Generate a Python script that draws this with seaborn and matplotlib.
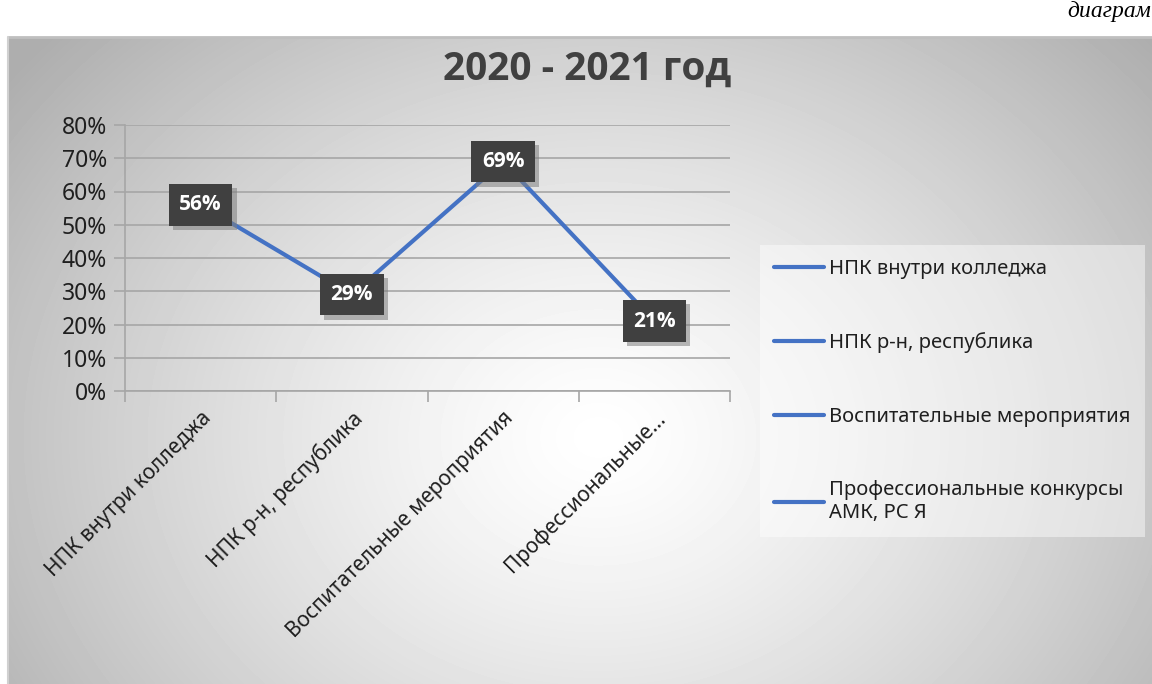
import numpy as np
import pandas as pd
import matplotlib
matplotlib.use('Agg')
import matplotlib.pyplot as plt
from matplotlib.lines import Line2D
from matplotlib.ticker import FixedLocator, PercentFormatter
import matplotlib.patheffects as pe
import seaborn as sns

# data
categories = ['НПК внутри колледжа', 'НПК р-н, республика',
              'Воспитательные мероприятия', 'Профессиональные конкурсы АМК, РС Я']
tick_labels = ['НПК внутри колледжа', 'НПК р-н, республика',
               'Воспитательные мероприятия', 'Профессиональные...']
legend_labels = ['НПК внутри колледжа', 'НПК р-н, республика',
                 'Воспитательные мероприятия', 'Профессиональные конкурсы\nАМК, РС Я']
values = [0.56, 0.29, 0.69, 0.21]
title = '2020 - 2021 год'

sns.set_theme(style='white')
plt.rcParams['font.family'] = ['Noto Sans', 'DejaVu Sans']
bold_fam = ['Open Sans', 'Lato', 'DejaVu Sans']

blue = '#4472C4'
txt = '#1f1f1f'

fig = plt.figure(figsize=(11.52, 6.84), dpi=100)
fig.patch.set_facecolor('white')

# radial gray-to-white background of the chart area
bg = fig.add_axes([8/1152, 0, 1 - 8/1152, 647/684], zorder=0)
W, H = 1144, 647
xx, yy = np.meshgrid(np.arange(W), np.arange(H))
r = np.sqrt(((xx - 590) / 740.0) ** 2 + ((yy - 400) / 600.0) ** 2)
shade = 1.0 - 0.32 * np.clip(r, 0, 1) ** 1.3
bg.imshow(shade, cmap='gray', vmin=0, vmax=1, aspect='auto', interpolation='bilinear')
bg.set_axis_off()
fig.add_artist(Line2D([8/1152, 1], [647/684, 647/684], color='#bfbfbf', lw=2,
                      transform=fig.transFigure))
fig.add_artist(Line2D([8/1152, 8/1152], [0, 647/684], color='#d0d0d0', lw=1.5,
                      transform=fig.transFigure))

# cut off caption from the page above
fig.text(1151/1152, 1 - 11/684, 'диаграм', family='Liberation Serif', style='italic',
         fontsize=17, color='black', ha='right', va='center')

ax = fig.add_axes([125/1152, 1 - 391/684, (730 - 125)/1152, (391 - 125)/684], zorder=2)
ax.patch.set_alpha(0)

df = pd.DataFrame({'cat': categories, 'x': np.arange(len(categories)), 'val': values})
sns.lineplot(data=df, x='x', y='val', ax=ax, color=blue, linewidth=3, zorder=3,
             legend=False)

ax.set_xlim(-0.5, len(categories) - 0.5)
ax.set_ylim(0, 0.8)
ax.set_yticks(np.arange(0, 0.81, 0.1))
ax.yaxis.set_major_formatter(PercentFormatter(1.0, decimals=0))
ax.grid(axis='y', color='#a6a6a6', lw=1.2)
ax.set_xticks(np.arange(len(categories)))
ax.set_xticklabels(tick_labels, rotation=45, ha='right', rotation_mode='anchor',
                   fontsize=15, color=txt)
ax.xaxis.set_minor_locator(FixedLocator(np.arange(-0.5, len(categories), 1.0)))
ax.tick_params(axis='x', which='major', length=0, pad=12)
ax.tick_params(axis='x', which='minor', length=8, color='#a6a6a6', width=1.2, bottom=True)
ax.tick_params(axis='y', length=8, color='#a6a6a6', width=1.2, left=True,
               labelsize=16.5, labelcolor=txt, pad=5)
for s in ['top', 'right']:
    ax.spines[s].set_visible(False)
for s in ['left', 'bottom']:
    ax.spines[s].set_color('#a6a6a6')
    ax.spines[s].set_linewidth(1.2)
ax.set_xlabel('')
ax.set_ylabel('')

# data labels in dark boxes with a soft shadow
for i, v in enumerate(values):
    t = ax.text(i, v, f'{round(v * 100)}%', ha='center', va='center', fontsize=15,
                fontweight='bold', family=bold_fam, color='white', zorder=5,
                bbox=dict(boxstyle='square,pad=0.5', fc='#404040', ec='none'))
    t.get_bbox_patch().set_path_effects([
        pe.SimplePatchShadow(offset=(3, -3), shadow_rgbFace='#7f7f7f', alpha=0.55),
        pe.Normal()])

fig.text(587/1152, 1 - 69/684, title, ha='center', va='center', fontsize=28,
         fontweight='bold', family=bold_fam, color='#404040')

handles = [Line2D([], [], color=blue, lw=3) for _ in legend_labels]
leg = fig.legend(handles, legend_labels, loc='upper left',
                 bbox_to_anchor=(760/1152, 1 - 245/684), frameon=True, fontsize=14.5,
                 labelspacing=2.65, handlelength=2.5, handletextpad=0.25,
                 borderpad=0.7, fancybox=False, borderaxespad=0)
leg.get_frame().set_facecolor('white')
leg.get_frame().set_alpha(0.45)
leg.get_frame().set_edgecolor('none')
for t in leg.get_texts():
    t.set_color(txt)

fig.savefig('out.png', dpi=100)
